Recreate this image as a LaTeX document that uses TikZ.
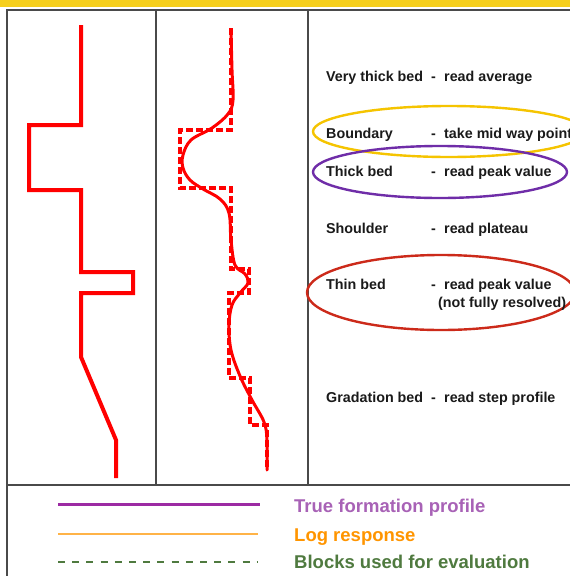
\documentclass[tikz,border=0pt]{standalone}
\usepackage{fontspec}
\setmainfont{Liberation Sans}
\definecolor{band}{HTML}{F6CF1B}
\definecolor{framec}{HTML}{4A4A4A}
\definecolor{tracec}{HTML}{FF0000}
\definecolor{ellY}{HTML}{F5C400}
\definecolor{ellP}{HTML}{6F2DA8}
\definecolor{ellR}{HTML}{CC2A1A}
\definecolor{legP}{HTML}{9C2AA3}
\definecolor{legPt}{HTML}{A862B6}
\definecolor{legO}{HTML}{FFB347}
\definecolor{legOt}{HTML}{FF9500}
\definecolor{legG}{HTML}{4F7A3F}
\definecolor{txt}{HTML}{1A1A1A}
\begin{document}
\begin{tikzpicture}[x=1pt,y=-1pt,
  frameline/.style={draw=framec,line width=1.4pt},
  truetrace/.style={draw=tracec,line width=4pt,line join=miter},
  blocktrace/.style={draw=tracec,line width=4.5pt,dash pattern=on 7pt off 3pt},
  logtrace/.style={draw=tracec,line width=3pt,line cap=round},
  ring/.style={line width=2.4pt},
  rowtext/.style={anchor=base west,inner sep=0pt,text=txt,font=\bfseries\fontsize{14.3}{17}\selectfont},
  legtext/.style={anchor=base west,inner sep=0pt,font=\bfseries\fontsize{18.5}{22}\selectfont}]
\useasboundingbox (0,0) rectangle (570,576);
\fill[white] (0,0) rectangle (570,576);
\fill[band] (0,0) rectangle (570,7);
% frame
\draw[frameline] (7,576) -- (7,10) -- (570,10);
\draw[frameline] (156,10) -- (156,485);
\draw[frameline] (308,10) -- (308,485);
\draw[frameline] (7,485) -- (570,485);
% true formation profile
\draw[truetrace] (81,25) -- (81,125) -- (29,125) -- (29,190) -- (81,190) -- (81,272)
  -- (133,272) -- (133,293) -- (81,293) -- (81,357) -- (116,440) -- (116,478);
% blocks
\draw[blocktrace] (231,28) -- (231,130) -- (180,130) -- (180,188) -- (231,188) -- (231,269)
  -- (249,269) -- (249,293) -- (229,293) -- (229,378) -- (250,378) -- (250,425)
  -- (267,425) -- (267,470);
% log response
\draw[logtrace] plot[smooth,tension=0.6] coordinates {(231,30) (232,70) (233,100) (228,114)
  (212,128) (191,140) (183,155) (183,168) (190,180) (203,189) (220,199) (229,213) (231,240)
  (235,265) (245,274) (248,283) (240,293) (232,305) (229,325) (231,350) (240,376) (252,400)
  (264,422) (267,440) (267,470)};
% ellipses
\draw[ring,ellY] (449,131.5) ellipse [x radius=136,y radius=25.5];
\draw[ring,ellP] (440,172) ellipse [x radius=127,y radius=26];
\draw[ring,ellR] (441,292.5) ellipse [x radius=134,y radius=37.5];
% rows
\node[rowtext] (r1a) at (326,81.5) {Very thick bed};
\node[rowtext] (r1b) at (431,81.5) {-};
\node[rowtext] (r1c) at (444,81.5) {read average};
\node[rowtext] (r2a) at (326,138) {Boundary};
\node[rowtext] (r2b) at (431,138) {-};
\node[rowtext] (r2c) at (444,138) {take mid way point};
\node[rowtext] (r3a) at (326,176) {Thick bed};
\node[rowtext] (r3b) at (431,176) {-};
\node[rowtext] (r3c) at (444,176) {read peak value};
\node[rowtext] (r4a) at (326,233) {Shoulder};
\node[rowtext] (r4b) at (431,233) {-};
\node[rowtext] (r4c) at (444,233) {read plateau};
\node[rowtext] (r5a) at (326,289) {Thin bed};
\node[rowtext] (r5b) at (431,289) {-};
\node[rowtext] (r5c) at (444,289) {read peak value};
\node[rowtext] (r5d) at (438,307) {(not fully resolved)};
\node[rowtext] (r6a) at (326,402.5) {Gradation bed};
\node[rowtext] (r6b) at (431,402.5) {-};
\node[rowtext] (r6c) at (444,402.5) {read step profile};
% legend
\coordinate (l1a) at (58,504); \coordinate (l1b) at (260,504);
\coordinate (l2a) at (58,534); \coordinate (l2b) at (258,534);
\coordinate (l3a) at (58,562); \coordinate (l3b) at (257,562);
\draw[legP,line width=3pt] (l1a) -- (l1b);
\draw[legO,line width=1.6pt] (l2a) -- (l2b);
\draw[legG,line width=1.4pt,dash pattern=on 7pt off 7.2pt] (l3a) -- (l3b);
\node[legtext,text=legPt] (t1) at (294,512.5) {True formation profile};
\node[legtext,text=legOt] (t2) at (294,541) {Log response};
\node[legtext,text=legG] (t3) at (294,568.5) {Blocks used for evaluation};
\end{tikzpicture}
\end{document}
